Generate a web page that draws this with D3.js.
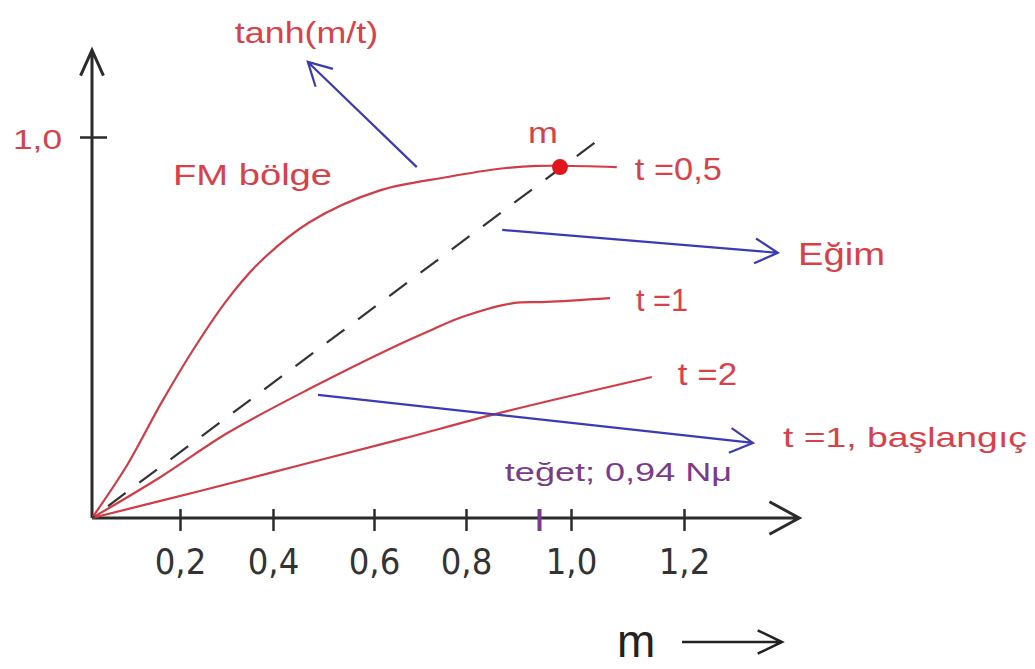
<!DOCTYPE html>
<html>
<head>
<meta charset="utf-8">
<script src="https://cdn.jsdelivr.net/npm/d3@7"></script>
<style>
  body { margin: 0; background: #fff; }
  text { font-family: "Liberation Sans", Arial, sans-serif; }
</style>
</head>
<body>
<svg id="chart" width="1035" height="669"></svg>
<script>
// values, x = m, y = magnetisation
var tickValues = [0.2, 0.4, 0.6, 0.8, 1.0, 1.2];
var tickLabels = ["0,2", "0,4", "0,6", "0,8", "1,0", "1,2"];
var yTickValues = [1.0];
var yTickLabels = ["1,0"];

var curveT05 = [[0,0],[0.08,0.139],[0.155,0.297],[0.228,0.441],[0.301,0.572],[0.372,0.672],
  [0.473,0.777],[0.613,0.86],[0.76,0.895],[0.86,0.916],[0.935,0.924],[1.081,0.921]];
var curveT1 = [[0,0],[0.155,0.107],[0.302,0.223],[0.475,0.341],[0.643,0.449],[0.724,0.493],
  [0.793,0.528],[0.89,0.564],[0.953,0.567],[1.069,0.577]];
var curveT2 = [[0,0],[0.243,0.071],[0.455,0.139],[0.659,0.207],[0.865,0.276],[1.143,0.37]];
var tangentLine = [[0,0],[1.051,0.995]];
var crossPoint = [0.979, 0.921];
var tegetValue = 0.94;

// blue arrows: [tail m, tail y, tip m, tip y]
var arrows = [
  [0.693, 0.921, 0.469, 1.197],
  [0.869, 0.756, 1.366, 0.696],
  [0.489, 0.323, 1.322, 0.197]
];

// labels: [text, start m, end m, baseline y, colour key, font size]
var labels = [
  ["tanh(m/t)", 0.318, 0.609, 1.247, "red", 30],
  ["FM bölge", 0.184, 0.517, 0.874, "red", 30],
  ["m", 0.918, 0.975, 0.984, "red", 30],
  ["t =0,5", 1.113, 1.267, 0.887, "red", 31],
  ["Eğim", 1.402, 1.556, 0.664, "red", 32],
  ["t =1", 1.115, 1.207, 0.543, "red", 31],
  ["t =2", 1.189, 1.294, 0.349, "red", 31],
  ["t =1, başlangıç", 1.375, 1.807, 0.186, "red", 28],
  ["teğet; 0,94 Nμ", 0.874, 1.285, 0.097, "purple", 26]
];

var xEnd = 1.404, yEnd = 1.228;

var colors = { red: "#d9414a", curve: "#d23c46", blue: "#3b3bb3", purple: "#7b3a8a", axis: "#2b2b2b" };

var svg = d3.select("#chart");

// the sketch's ticks are not evenly spaced, so the scale is piecewise
var x = d3.scaleLinear()
  .domain([0, 0.2, 0.4, 0.6, 0.8, 1.0, 1.2])
  .range([92, 180, 273, 374, 466, 571, 684]);
var y = d3.scaleLinear().domain([0, 1]).range([518, 137]);

function arrowHead(tx, ty, fx, fy, len, ang) {
  var a = Math.atan2(fy - ty, fx - tx);
  var p1 = [tx + len * Math.cos(a + ang), ty + len * Math.sin(a + ang)];
  var p2 = [tx + len * Math.cos(a - ang), ty + len * Math.sin(a - ang)];
  return "M" + p1 + "L" + tx + "," + ty + "L" + p2;
}

// axes
var xAxis = svg.append("g")
  .attr("transform", "translate(0," + y(0) + ")")
  .call(d3.axisBottom(x).tickValues(tickValues)
    .tickFormat(function(d, i) { return tickLabels[i]; }));
xAxis.select(".domain").remove();
xAxis.selectAll(".tick line")
  .attr("y1", -9).attr("y2", 13)
  .attr("stroke", colors.axis).attr("stroke-width", 2.5);
xAxis.selectAll(".tick text")
  .attr("y", 56).attr("dy", 0)
  .attr("fill", "#333")
  .style("font-family", "'Liberation Sans Narrow', 'DejaVu Sans Condensed', 'Arial Narrow', sans-serif")
  .style("font-size", "36px");

var yAxis = svg.append("g")
  .attr("transform", "translate(" + x(0) + ",0)")
  .call(d3.axisLeft(y).tickValues(yTickValues)
    .tickFormat(function(d, i) { return yTickLabels[i]; }));
yAxis.select(".domain").remove();
yAxis.selectAll(".tick line")
  .attr("x1", -12).attr("x2", 15)
  .attr("stroke", colors.axis).attr("stroke-width", 2.5);
yAxis.selectAll(".tick text")
  .attr("x", -30).attr("dy", 11)
  .attr("fill", colors.red)
  .attr("textLength", 49).attr("lengthAdjust", "spacingAndGlyphs")
  .style("font-size", "28px");

svg.append("path")
  .attr("d", "M" + x(0) + "," + y(0) + "H" + x(xEnd) + arrowHead(x(xEnd), y(0), x(0), y(0), 34, 0.5))
  .attr("fill", "none").attr("stroke", colors.axis).attr("stroke-width", 3);
svg.append("path")
  .attr("d", "M" + x(0) + "," + y(0) + "V" + y(yEnd) + arrowHead(x(0), y(yEnd), x(0), y(0), 28, 0.42))
  .attr("fill", "none").attr("stroke", colors.axis).attr("stroke-width", 3);

// purple tangent tick
svg.append("line")
  .attr("x1", x(tegetValue)).attr("x2", x(tegetValue))
  .attr("y1", y(0) - 9).attr("y2", y(0) + 13)
  .attr("stroke", colors.purple).attr("stroke-width", 4);

// curves
var line = d3.line()
  .x(function(d) { return x(d[0]); })
  .y(function(d) { return y(d[1]); })
  .curve(d3.curveCatmullRom.alpha(0.5));

svg.selectAll("path.curve")
  .data([curveT05, curveT1, curveT2])
  .join("path")
  .classed("curve", true)
  .attr("d", line)
  .attr("fill", "none")
  .attr("stroke", colors.curve)
  .attr("stroke-width", 2.2);

svg.append("path")
  .attr("d", d3.line().x(function(d) { return x(d[0]); }).y(function(d) { return y(d[1]); })(tangentLine))
  .attr("fill", "none")
  .attr("stroke", "#333")
  .attr("stroke-width", 2.2)
  .attr("stroke-dasharray", "22,17")
  .attr("stroke-dashoffset", 19);

svg.append("circle")
  .attr("cx", x(crossPoint[0])).attr("cy", y(crossPoint[1]))
  .attr("r", 8)
  .attr("fill", "#e3141c");

// blue arrows
svg.selectAll("path.arrow")
  .data(arrows)
  .join("path")
  .classed("arrow", true)
  .attr("d", function(d) {
    var x0 = x(d[0]), y0 = y(d[1]), x1 = x(d[2]), y1 = y(d[3]);
    return "M" + x0 + "," + y0 + "L" + x1 + "," + y1 + arrowHead(x1, y1, x0, y0, 26, 0.5);
  })
  .attr("fill", "none")
  .attr("stroke", colors.blue)
  .attr("stroke-width", 2.2);

// labels
svg.selectAll("text.label")
  .data(labels)
  .join("text")
  .classed("label", true)
  .attr("x", function(d) { return x(d[1]); })
  .attr("y", function(d) { return y(d[3]); })
  .attr("textLength", function(d) { return x(d[2]) - x(d[1]); })
  .attr("lengthAdjust", "spacingAndGlyphs")
  .attr("fill", function(d) { return colors[d[4]]; })
  .style("font-size", function(d) { return d[5] + "px"; })
  .text(function(d) { return d[0]; });

// axis title "m -->" under the axis
svg.append("text")
  .attr("x", 617).attr("y", 657)
  .attr("fill", "#222")
  .style("font-size", "46px")
  .text("m");
svg.append("path")
  .attr("d", "M682,642H782" + arrowHead(782, 642, 682, 642, 27, 0.45))
  .attr("fill", "none").attr("stroke", "#222").attr("stroke-width", 2.5);
</script>
</body>
</html>
